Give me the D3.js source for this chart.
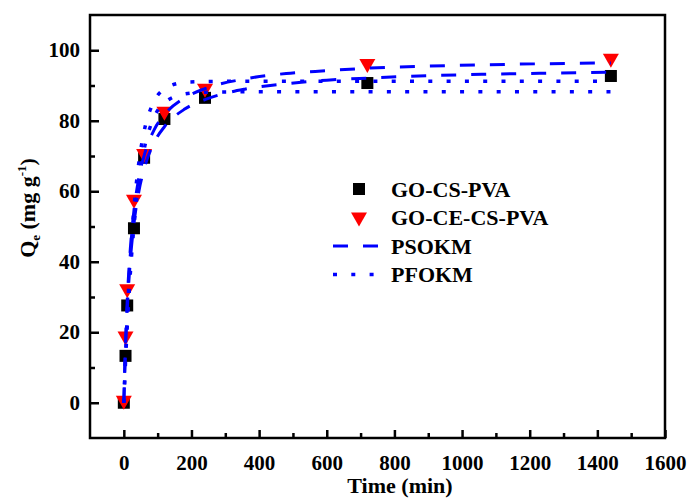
<!DOCTYPE html>
<html>
<head>
<meta charset="utf-8">
<script src="https://cdn.jsdelivr.net/npm/d3@7"></script>
<style>
  html, body { margin: 0; padding: 0; background: #fff; }
  svg { display: block; }
  text { font-family: "Liberation Serif", "Times New Roman", serif; font-weight: bold; fill: #000; }
</style>
</head>
<body>
<svg id="chart" width="688" height="498"></svg>
<script>
// Adsorption kinetics: measured uptake and fitted kinetic models
const sampleTimes = [0, 5, 10, 30, 60, 120, 240, 720, 1440];
const goCsPva = [0, 13.3, 27.6, 49.5, 69.5, 80.5, 86.5, 90.7, 92.7];
const goCeCsPva = [0, 18.2, 31.6, 57.0, 70.0, 82.0, 88.5, 95.5, 97.0];

const fitTimes = [0, 5, 10, 20, 30, 45, 60, 90, 120, 180, 240, 360, 480, 600, 720, 900, 1080, 1260, 1440];
const psoUpper = [0, 17.0, 28.9, 44.7, 54.6, 64.0, 70.1, 77.5, 81.7, 86.5, 89.1, 91.9, 93.4, 94.2, 94.9, 95.5, 95.9, 96.2, 96.4];
const psoLower = [0, 15.2, 26.2, 41.2, 50.8, 60.2, 66.3, 73.9, 78.3, 83.3, 86.0, 89.0, 90.5, 91.5, 92.1, 92.8, 93.2, 93.5, 93.8];
const pfoUpper = [0, 13.1, 24.3, 42.1, 55.2, 68.6, 77.0, 85.6, 89.0, 90.9, 91.1, 91.2, 91.2, 91.2, 91.2, 91.2, 91.2, 91.2, 91.2];
const pfoLower = [0, 11.5, 21.5, 37.8, 50.1, 63.2, 71.8, 81.1, 85.1, 87.6, 88.1, 88.2, 88.2, 88.2, 88.2, 88.2, 88.2, 88.2, 88.2];

const xTickValues = [0, 200, 400, 600, 800, 1000, 1200, 1400, 1600];
const xMinorValues = [100, 300, 500, 700, 900, 1100, 1300, 1500];
const yTickValues = [0, 20, 40, 60, 80, 100];
const yMinorValues = [10, 30, 50, 70, 90];

const legendLabels = ["GO-CS-PVA", "GO-CE-CS-PVA", "PSOKM", "PFOKM"];

const svg = d3.select("#chart");
const plotLeft = 90, plotRight = 665, plotTop = 15, plotBottom = 438;

const x = d3.scaleLinear().domain([-100, 1600]).range([plotLeft, plotRight]);
const y = d3.scaleLinear().domain([-10, 110]).range([plotBottom, plotTop]);

const blue = "#0000ff";
const red = "#ff0000";

// frame
svg.append("rect")
  .attr("x", plotLeft).attr("y", plotTop)
  .attr("width", plotRight - plotLeft).attr("height", plotBottom - plotTop)
  .attr("fill", "none").attr("stroke", "#000").attr("stroke-width", 2.5);

// x axis (ticks point inward)
const xAxis = svg.append("g").attr("transform", `translate(0,${plotBottom})`);
xAxis.call(d3.axisBottom(x).tickValues(xTickValues).tickSize(-8).tickPadding(17).tickFormat(d3.format("d")));
xAxis.append("g").call(d3.axisBottom(x).tickValues(xMinorValues).tickSize(-5).tickFormat(""));
xAxis.selectAll(".tick line").attr("stroke-width", 2.5);
xAxis.selectAll(".tick text").attr("font-size", 21).attr("font-family", "Liberation Serif").attr("font-weight", "bold").attr("fill", "#000");

// y axis (ticks point inward)
const yAxis = svg.append("g").attr("transform", `translate(${plotLeft},0)`);
yAxis.call(d3.axisLeft(y).tickValues(yTickValues).tickSize(-9).tickPadding(10).tickFormat(d3.format("d")));
yAxis.append("g").call(d3.axisLeft(y).tickValues(yMinorValues).tickSize(-5).tickFormat(""));
yAxis.selectAll(".tick line").attr("stroke-width", 2.5);
yAxis.selectAll(".tick text").attr("font-size", 21).attr("font-family", "Liberation Serif").attr("font-weight", "bold").attr("fill", "#000");
svg.selectAll(".domain").remove();

// axis titles
svg.append("text")
  .attr("x", 400).attr("y", 493)
  .attr("text-anchor", "middle").attr("font-size", 22)
  .text("Time (min)");

const yTitle = svg.append("text")
  .attr("transform", "translate(35,208) rotate(-90)")
  .attr("text-anchor", "middle").attr("font-size", 22);
yTitle.append("tspan").text("Q");
yTitle.append("tspan").attr("font-size", 13).attr("dy", 5).text("e");
yTitle.append("tspan").attr("dy", -5).text(" (mg g");
yTitle.append("tspan").attr("font-size", 13).attr("dy", -9).text("-1");
yTitle.append("tspan").attr("dy", 9).text(")");

// markers
const sq = 12;
const triPath = (cx, cy) => `M${cx - 8},${cy - 7}L${cx + 8},${cy - 7}L${cx},${cy + 7}Z`;

svg.append("g").selectAll("rect")
  .data(sampleTimes.map((t, i) => [t, goCsPva[i]]))
  .join("rect")
  .attr("x", d => x(d[0]) - sq / 2).attr("y", d => y(d[1]) - sq / 2)
  .attr("width", sq).attr("height", sq).attr("fill", "#000");

svg.append("g").selectAll("path")
  .data(sampleTimes.map((t, i) => [t, goCeCsPva[i]]))
  .join("path")
  .attr("d", d => triPath(x(d[0]), y(d[1])))
  .attr("fill", red);

// fitted curves
const line = d3.line().x(d => x(d[0])).y(d => y(d[1])).curve(d3.curveMonotoneX);
const fits = [
  { vals: psoUpper, dash: "15 15", w: 3 },
  { vals: psoLower, dash: "15 15", w: 3 },
  { vals: pfoUpper, dash: "4 14.3", w: 3.5 },
  { vals: pfoLower, dash: "4 14.3", w: 3.5 }
];
fits.forEach(f => {
  svg.append("path")
    .datum(fitTimes.map((t, i) => [t, f.vals[i]]))
    .attr("d", line)
    .attr("fill", "none")
    .attr("stroke", blue)
    .attr("stroke-width", f.w)
    .attr("stroke-dasharray", f.dash);
});

// legend
const legY = [189, 217.5, 246, 274.5];
const lg = svg.append("g");
lg.append("rect").attr("x", 359 - sq / 2).attr("y", legY[0] - sq / 2).attr("width", sq).attr("height", sq).attr("fill", "#000");
lg.append("path").attr("d", triPath(359, legY[1] + 2)).attr("fill", red);
lg.append("line").attr("x1", 333).attr("x2", 378).attr("y1", legY[2]).attr("y2", legY[2])
  .attr("stroke", blue).attr("stroke-width", 3).attr("stroke-dasharray", "15 15");
lg.append("line").attr("x1", 333).attr("x2", 378).attr("y1", legY[3]).attr("y2", legY[3])
  .attr("stroke", blue).attr("stroke-width", 3.5).attr("stroke-dasharray", "4 14.3");
lg.selectAll("text.lab")
  .data(legendLabels)
  .join("text")
  .attr("class", "lab")
  .attr("x", 391).attr("y", (d, i) => legY[i])
  .attr("dy", "0.35em")
  .attr("font-size", 22)
  .text(d => d);
</script>
</body>
</html>
